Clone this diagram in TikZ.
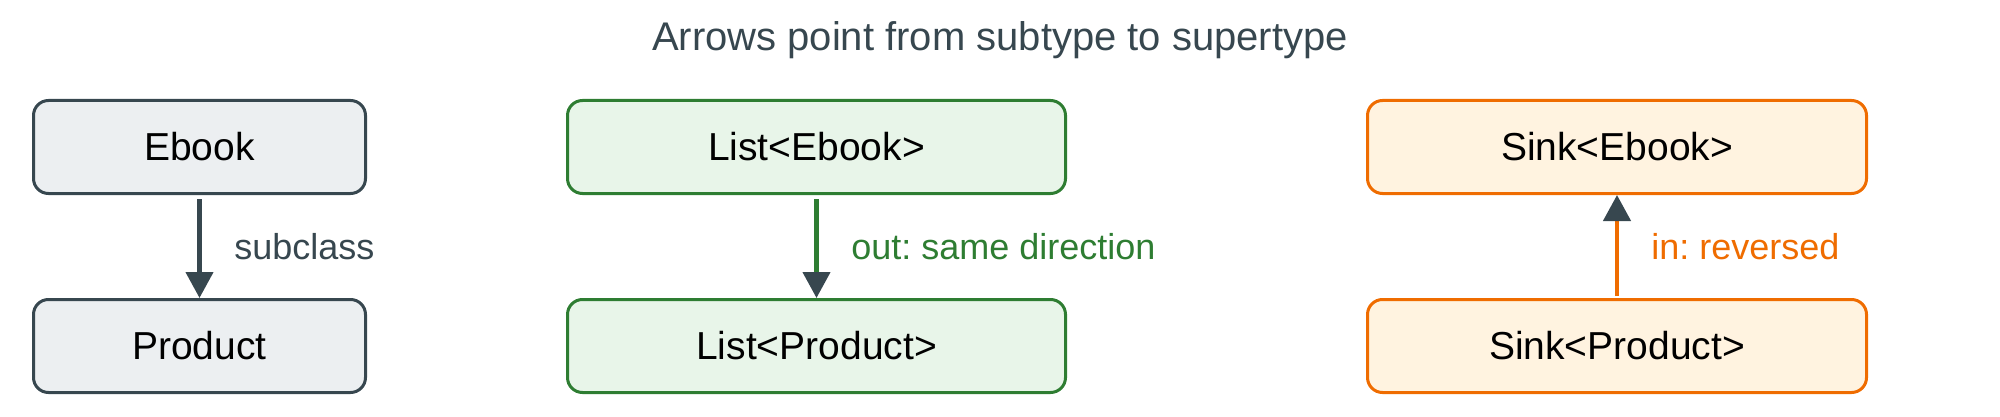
\documentclass[tikz,border=0pt]{standalone}
\usepackage{fontspec}
\setmainfont{Liberation Sans}
\usetikzlibrary{arrows.meta}
\frenchspacing
\definecolor{dark}{HTML}{37474F}
\definecolor{grayfill}{HTML}{ECEFF1}
\definecolor{grn}{HTML}{2E7D32}
\definecolor{grnfill}{HTML}{E8F5E9}
\definecolor{org}{HTML}{EF6C00}
\definecolor{orgfill}{HTML}{FFF3E0}
\tikzset{
  box/.style={draw, rounded corners=7.5pt, line width=1.5pt, minimum height=46.5pt, inner sep=0pt, text=black, font=\fontsize{19.5}{23}\selectfont},
  graybox/.style={box, draw=dark, fill=grayfill, minimum width=166pt},
  greenbox/.style={box, draw=grn, fill=grnfill, minimum width=249pt},
  orangebox/.style={box, draw=org, fill=orgfill, minimum width=249.5pt},
  lbl/.style={anchor=base west, inner sep=0pt, font=\fontsize{18}{21}\selectfont},
  arr/.style={line width=2.2pt, -{Triangle[length=13pt,width=13.5pt,color=dark,fill=dark]}}
}
\begin{document}
\frenchspacing
\begin{tikzpicture}[x=0.5pt,y=-0.5pt]
\useasboundingbox (0,0) rectangle (2000,417);
\node[anchor=base, inner sep=0pt, text=dark, font=\fontsize{20}{24}\selectfont] (title) at (1000,51) {Arrows point from subtype to supertype};

\node[graybox] (ebook) at (199.5,147) {Ebook};
\node[graybox] (product) at (199.5,346) {Product};
\node[greenbox] (liste) at (816.5,147) {List<Ebook>};
\node[greenbox] (listp) at (816.5,346) {List<Product>};
\node[orangebox] (sinke) at (1617,147) {Sink<Ebook>};
\node[orangebox] (sinkp) at (1617,346) {Sink<Product>};

\draw[arr, dark, shorten <=2pt] (ebook) -- (product);
\draw[arr, grn, shorten <=2pt] (liste) -- (listp);
\draw[arr, org, shorten <=1pt] (sinkp) -- (sinke);

\node[lbl, text=dark] (l1) at (234,259) {subclass};
\node[lbl, text=grn] (l2) at (851,259) {out: same direction};
\node[lbl, text=org] (l3) at (1651,259) {in: reversed};
\end{tikzpicture}
\end{document}
